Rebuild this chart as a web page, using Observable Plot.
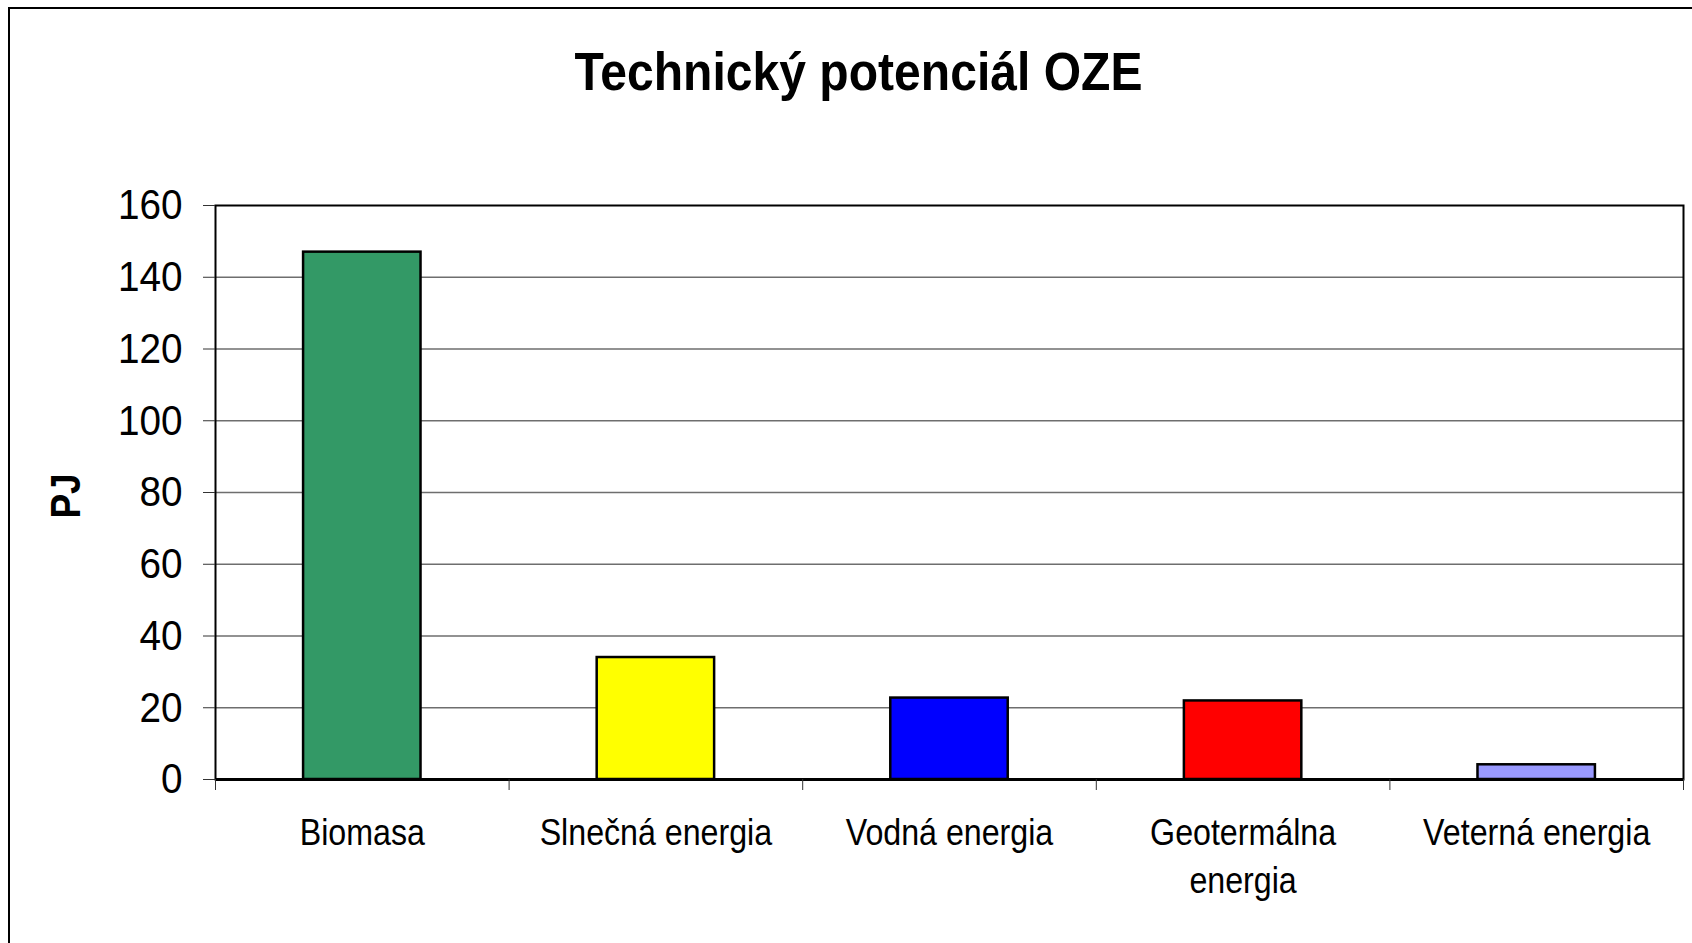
<!DOCTYPE html>
<html>
<head>
<meta charset="utf-8">
<script src="https://cdn.jsdelivr.net/npm/d3@7"></script>
<script src="https://cdn.jsdelivr.net/npm/@observablehq/plot@0.6"></script>
<style>
  html, body { margin: 0; padding: 0; background: #fff; }
  body { width: 1692px; height: 943px; overflow: hidden; position: relative;
         font-family: "Liberation Sans", Arial, sans-serif; }
  #border { position: absolute; left: 8px; top: 7px; width: 1800px; height: 1100px;
            border: 2px solid #000; box-shadow: 1px 1px 0 #aaa; }
  #title { position: absolute; left: 0; top: 44px; width: 1717px; text-align: center;
           font-weight: bold; font-size: 54px; line-height: 54px; color: #000;
           transform: scaleX(0.89); transform-origin: 858.5px 0; }
  #ylabel { position: absolute; left: 66px; top: 496px;
            transform: translate(-50%, -50%) rotate(-90deg) scaleX(0.88);
            font-weight: bold; font-size: 42px; line-height: 42px; color: #000; white-space: nowrap; }
  #chart { position: absolute; left: 0; top: 0; }
</style>
</head>
<body>
<div id="border"></div>
<div id="chart"></div>
<div id="title">Technický potenciál OZE</div>
<div id="ylabel">PJ</div>
<script>
const categories = ["Biomasa", "Slnečná energia", "Vodná energia", "Geotermálna\nenergia", "Veterná energia"];
const values = [147, 34, 22.7, 21.9, 4.1];
const colors = ["#339966", "#FFFF00", "#0000FF", "#FF0000", "#9999FF"];
const yTicks = [0, 20, 40, 60, 80, 100, 120, 140, 160];

const data = categories.map((c, i) => ({i, category: c, value: values[i], color: colors[i]}));
const centers = categories.map((c, i) => i + 0.5);
const boundaries = d3.range(0, categories.length + 1);

const chart = Plot.plot({
  width: 1692,
  height: 943,
  marginLeft: 215,
  marginRight: 9,
  marginTop: 205,
  marginBottom: 164,
  style: {background: "transparent", fontFamily: "'Liberation Sans', Arial, sans-serif", color: "#000", overflow: "visible"},
  x: {domain: [0, categories.length], label: null},
  y: {domain: [0, 160], label: null},
  color: {type: "identity"},
  marks: [
    Plot.ruleY(yTicks.filter(d => d > 0 && d < 160), {stroke: "#6e6e6e", strokeWidth: 1.5}),
    Plot.rectY(data, {x1: d => d.i + 0.3, x2: d => d.i + 0.7, y1: 0, y2: "value", fill: "color", stroke: "#000", strokeWidth: 2.5}),
    Plot.frame({stroke: "#000", strokeWidth: 2}),
    Plot.ruleY([0], {stroke: "#000", strokeWidth: 3}),
    Plot.axisY({ticks: yTicks, tickSize: 12, tickPadding: 21, fontSize: 43, stroke: "#333", label: null}),
    Plot.axisX({ticks: boundaries, tickSize: 11, tickFormat: () => "", stroke: "#333", label: null}),
    Plot.axisX({ticks: centers, tickSize: 0, tickPadding: 31, fontSize: 37, lineHeight: 1.3,
                tickFormat: t => categories[Math.floor(t)], label: null})
  ]
});

// emulate the condensed typeface of the original by narrowing glyphs about each text's anchor
function narrow(root, sx) {
  root.querySelectorAll("text").forEach(t => {
    const tr = t.getAttribute("transform") || "";
    t.setAttribute("transform", `${tr} scale(${sx},1)`);
  });
}
chart.querySelectorAll("g[aria-label='y-axis tick label']").forEach(g => narrow(g, 0.9));
chart.querySelectorAll("g[aria-label='x-axis tick label']").forEach(g => narrow(g, 0.87));
document.getElementById("chart").appendChild(chart);
</script>
</body>
</html>
